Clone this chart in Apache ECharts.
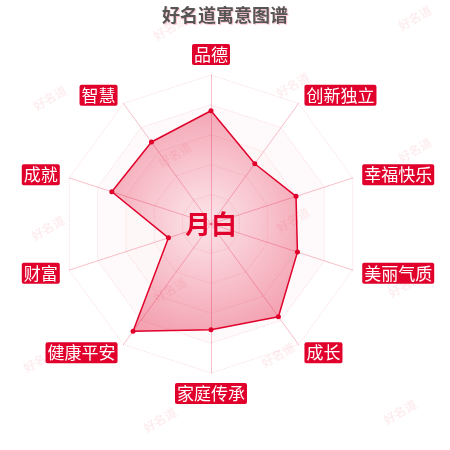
<!DOCTYPE html>
<html><head><meta charset="utf-8">
<script src="https://cdn.jsdelivr.net/npm/echarts@6/dist/echarts.min.js"></script>
<style>html,body{margin:0;padding:0;background:#fff}#c{width:450px;height:450px}</style>
</head><body><div id="c"></div>
<script>
const chartTitle = '好名道寓意图谱';
const centerName = '月白';
// clockwise from top
const categories = ['品德','创新独立','幸福快乐','美丽气质','成长','家庭传承','健康平安','财富','成就','智慧'];
const values = [76, 50, 60, 61, 77, 71, 89, 30, 70, 68];
const maxValue = 100;
const watermarkText = '好名道';
const watermarkSpots = [[170,28],[415,18],[50,98],[293,85],[175,155],[415,150],[48,228],[293,220],[170,290],[405,285],[40,360],[278,355],[160,420],[400,412]];

// ECharts radar runs counter-clockwise: keep first, reverse the rest
const order = [0].concat(categories.map((_, i) => i).slice(1).reverse());
const ccwCategories = order.map(i => categories[i]);
const ccwValues = order.map(i => values[i]);

const chart = echarts.init(document.getElementById('c'));
const RED = '#e0002b';
const graphics = watermarkSpots.map(p => ({
  type: 'text', x: p[0], y: p[1], rotation: Math.PI/6, z: -10,
  style: { text: watermarkText, fill: 'rgba(224,0,43,0.07)', font: 'bold 12px "Noto Sans CJK SC"', align: 'center', verticalAlign: 'middle' }
}));
graphics.push({
  type: 'text', x: 211, y: 224, z: 100,
  style: { text: centerName, fill: RED, font: 'bold 26px "Noto Sans CJK SC"', align: 'center', verticalAlign: 'middle' }
});
chart.setOption({
  animation: false,
  title: { text: chartTitle, left: 'center', top: 1,
    textStyle: { fontFamily: 'Noto Sans CJK SC', fontSize: 18, fontWeight: 'bold', color: '#555',
      textShadowColor: 'rgba(224,0,43,0.25)', textShadowBlur: 1, textShadowOffsetX: 1, textShadowOffsetY: 1 } },
  graphic: graphics,
  radar: {
    center: [211, 224], radius: 149, startAngle: 90, splitNumber: 5,
    indicator: ccwCategories.map(n => ({ name: n, max: maxValue })),
    axisName: { color: '#fff', backgroundColor: RED, fontFamily: 'Noto Sans CJK SC', fontSize: 17,
      padding: [1, 2, 1, 2], borderRadius: 2, lineHeight: 19 },
    nameGap: 10,
    axisLine: { lineStyle: { color: 'rgba(224,0,43,0.25)', width: 1 } },
    splitLine: { lineStyle: { color: 'rgba(224,0,43,0.15)', type: 'dotted', width: 1 } },
    splitArea: { show: true, areaStyle: { color: ['rgba(224,0,43,0.05)','rgba(224,0,43,0.04)','rgba(224,0,43,0.03)','rgba(224,0,43,0.02)','rgba(255,255,255,0)'] } }
  },
  series: [{
    type: 'radar', symbol: 'circle', symbolSize: 5,
    itemStyle: { color: RED },
    lineStyle: { color: RED, width: 1.5 },
    areaStyle: { color: new echarts.graphic.RadialGradient(0.5, 0.5, 0.7, [
      { offset: 0, color: 'rgba(224,0,43,0.08)' },
      { offset: 1, color: 'rgba(224,0,43,0.55)' }
    ]) },
    data: [{ value: ccwValues, name: centerName }]
  }]
});
</script></body></html>
